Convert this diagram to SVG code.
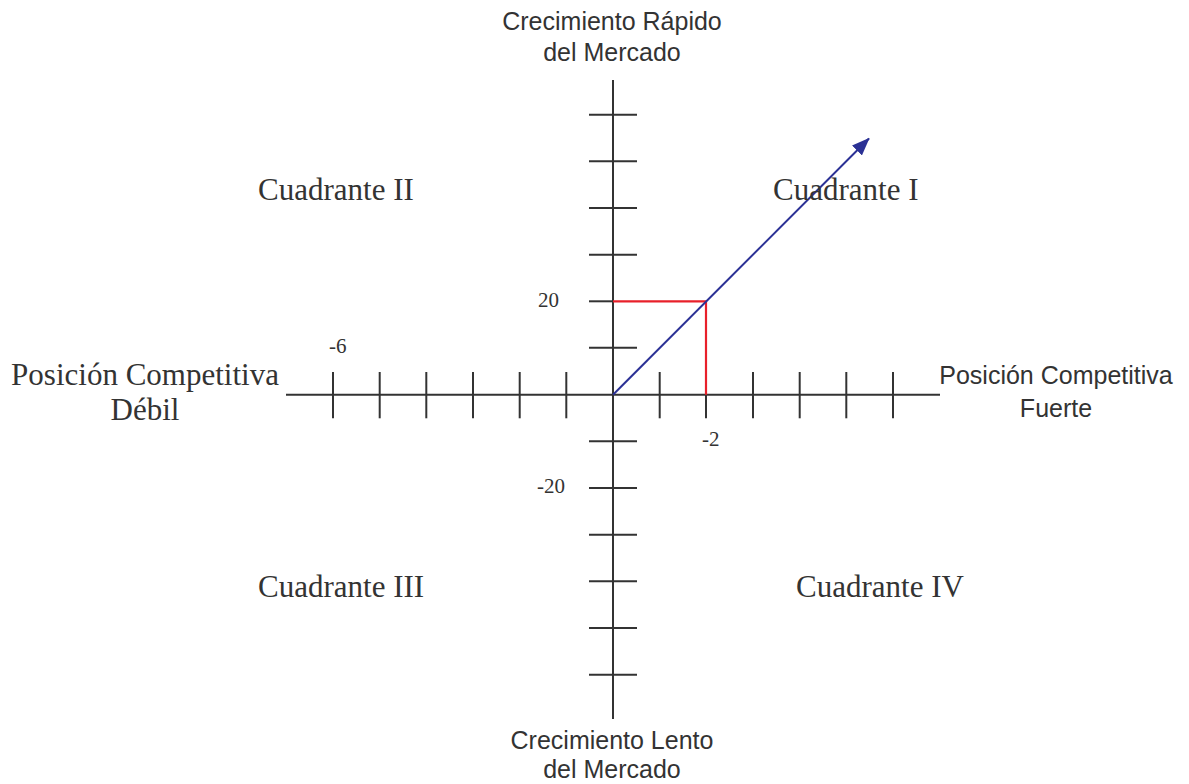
<svg xmlns="http://www.w3.org/2000/svg" width="1189" height="784" viewBox="0 0 1189 784">
<style>
.ax{stroke:#333;stroke-width:2;fill:none}
.tk{stroke:#333;stroke-width:2}
.serif{font-family:"Liberation Serif","Times New Roman",serif;fill:#333}
.sans{font-family:"Liberation Sans",Arial,sans-serif;fill:#333}
.big{font-size:31px}
.lab{font-size:25px}
.num{font-size:21px}
</style>
<defs>
<marker id="ah" markerWidth="18" markerHeight="14" refX="17" refY="7" orient="auto" markerUnits="userSpaceOnUse" viewBox="0 0 18 14">
<path d="M0,0 L18,7 L0,14 Z" fill="#2b3195"/>
</marker>
</defs>
<rect width="1189" height="784" fill="#fff"/>
<g id="axes">
<line class="ax" x1="613" y1="80" x2="613" y2="719"/>
<line class="ax" x1="286" y1="394.7" x2="940" y2="394.7"/>
</g>
<g id="ticks-y" class="tk">
<line x1="589" y1="114.7" x2="637" y2="114.7"/>
<line x1="589" y1="161.3" x2="637" y2="161.3"/>
<line x1="589" y1="208" x2="637" y2="208"/>
<line x1="589" y1="254.7" x2="637" y2="254.7"/>
<line x1="589" y1="301.3" x2="613" y2="301.3"/>
<line x1="589" y1="347.7" x2="637" y2="347.7"/>
<line x1="589" y1="441.3" x2="637" y2="441.3"/>
<line x1="589" y1="488" x2="637" y2="488"/>
<line x1="589" y1="534.7" x2="637" y2="534.7"/>
<line x1="589" y1="581.3" x2="637" y2="581.3"/>
<line x1="589" y1="628" x2="637" y2="628"/>
<line x1="589" y1="674.7" x2="637" y2="674.7"/>
</g>
<g id="ticks-x" class="tk">
<line x1="333" y1="372" x2="333" y2="418.3"/>
<line x1="379.7" y1="372" x2="379.7" y2="418.3"/>
<line x1="426.3" y1="372" x2="426.3" y2="418.3"/>
<line x1="473" y1="372" x2="473" y2="418.3"/>
<line x1="519.7" y1="372" x2="519.7" y2="418.3"/>
<line x1="566.3" y1="372" x2="566.3" y2="418.3"/>
<line x1="659.7" y1="372" x2="659.7" y2="418.3"/>
<line x1="706" y1="394.7" x2="706" y2="418.3"/>
<line x1="753" y1="372" x2="753" y2="418.3"/>
<line x1="799.7" y1="372" x2="799.7" y2="418.3"/>
<line x1="846.3" y1="372" x2="846.3" y2="418.3"/>
<line x1="893" y1="372" x2="893" y2="418.3"/>
</g>
<g id="connectors">
<polyline points="613,301.3 706,301.3 706,394.7" fill="none" stroke="#e8202a" stroke-width="2.2"/>
<line x1="613" y1="394.7" x2="869" y2="138.5" stroke="#2b3195" stroke-width="2" marker-end="url(#ah)"/>
</g>
<g id="top-label" class="sans lab" text-anchor="middle">
<text x="612" y="30">Crecimiento Rápido</text>
<text x="612" y="61">del Mercado</text>
</g>
<g id="bottom-label" class="sans lab" text-anchor="middle">
<text x="612" y="749">Crecimiento Lento</text>
<text x="612" y="778">del Mercado</text>
</g>
<g id="left-label" class="serif big" text-anchor="middle">
<text x="145" y="385">Posición Competitiva</text>
<text x="145" y="420">Débil</text>
</g>
<g id="right-label" class="sans lab" text-anchor="middle">
<text x="1056" y="384">Posición Competitiva</text>
<text x="1056" y="417">Fuerte</text>
</g>
<g id="quadrants" class="serif big">
<text x="258" y="200">Cuadrante II</text>
<text x="773" y="200">Cuadrante I</text>
<text x="258" y="597">Cuadrante III</text>
<text x="796" y="597">Cuadrante IV</text>
</g>
<g id="numbers" class="serif num">
<text x="538" y="307">20</text>
<text x="537" y="493">-20</text>
<text x="329" y="353">-6</text>
<text x="702" y="446">-2</text>
</g>
</svg>
